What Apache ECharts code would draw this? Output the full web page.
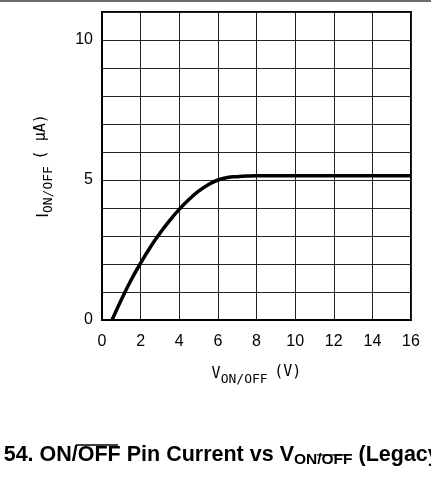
<!DOCTYPE html>
<html>
<head>
<meta charset="utf-8">
<script src="https://cdn.jsdelivr.net/npm/echarts@6/dist/echarts.min.js"></script>
<style>
  html, body { margin: 0; padding: 0; background: #fff; }
  #chart { width: 431px; height: 477px; }
</style>
</head>
<body>
<div id="chart"></div>
<script>
// V_ON/OFF (V) vs I_ON/OFF (uA)
const voltage = [0.52, 1, 1.5, 2, 2.5, 3, 3.5, 4, 4.5, 5, 5.5, 6, 6.5, 7, 7.5, 8, 10, 12, 14, 16];
const current = [0, 0.72, 1.42, 2.03, 2.6, 3.1, 3.55, 3.95, 4.3, 4.6, 4.83, 5.0, 5.09, 5.12, 5.14, 5.15, 5.15, 5.15, 5.15, 5.15];
const yLabels = [0, 5, 10];

const chart = echarts.init(document.getElementById("chart"));
const font = "Liberation Sans";
const plotter = "DejaVu Sans Mono";

chart.setOption({
    animation: false,
    backgroundColor: "#fff",
    grid: {
        left: 102, right: 20, top: 12, bottom: 157,
        show: true, borderColor: "#000", borderWidth: 2,
    },
    xAxis: {
        type: "value", min: 0, max: 16, interval: 2,
        axisLine: { lineStyle: { color: "#000", width: 2 } },
        axisTick: { show: false },
        splitLine: { lineStyle: { color: "#222", width: 1 } },
        axisLabel: { color: "#000", fontFamily: font, fontSize: 16, margin: 14 },
        name: "{v|V}{s|ON/OFF}  {p|(V)}",
        nameLocation: "middle",
        nameGap: 42,
        nameTextStyle: {
            rich: {
                v: { fontFamily: plotter, fontSize: 15, color: "#000" },
                s: { fontFamily: plotter, fontSize: 13, color: "#000", padding: [11, 0, 0, 0] },
                p: { fontFamily: plotter, fontSize: 15, color: "#000", padding: [0, 0, 3, 0] },
            },
        },
    },
    yAxis: {
        type: "value", min: 0, max: 11, interval: 1,
        axisLine: { lineStyle: { color: "#000", width: 2 } },
        axisTick: { show: false },
        splitLine: { lineStyle: { color: "#222", width: 1 } },
        axisLabel: {
            color: "#000", fontFamily: font, fontSize: 16, margin: 9,
            formatter: (v) => (yLabels.includes(v) ? String(v) : ""),
        },
        name: "{v|I}{s|ON/OFF}  {p|( μA)}",
        nameLocation: "middle",
        nameRotate: 90,
        nameGap: 47,
        nameTextStyle: {
            rich: {
                v: { fontFamily: font, fontSize: 17, color: "#000" },
                s: { fontFamily: plotter, fontSize: 13, color: "#000", padding: [11, 0, 0, 0] },
                p: { fontFamily: plotter, fontSize: 15, color: "#000", padding: [0, 0, 3, 0] },
            },
        },
    },
    series: [{
        type: "line",
        data: voltage.map((v, i) => [v, current[i]]),
        smooth: 0.5,
        showSymbol: false,
        lineStyle: { color: "#000", width: 3.5 },
    }],
    graphic: [
        { type: "rect", shape: { x: 0, y: 0, width: 431, height: 2 }, style: { fill: "#6e6e6e" } },
        {
            type: "text", left: -68, top: 444,
            style: {
                text: "{b|Figure 54. ON/OFF Pin Current vs V}{sb|ON/OFF}{b| (Legacy Mode)}",
                rich: {
                    b: { fontFamily: font, fontWeight: "bold", fontSize: 21.5, fill: "#000" },
                    sb: { fontFamily: font, fontWeight: "bold", fontSize: 15.5, fill: "#000", padding: [9, 0, 0, 0] },
                },
            },
        },
        { type: "line", shape: { x1: 76, y1: 445, x2: 118, y2: 445 }, style: { stroke: "#000", lineWidth: 1.5 } },
        { type: "line", shape: { x1: 317, y1: 455, x2: 348, y2: 455 }, style: { stroke: "#000", lineWidth: 1.2 } },
    ],
});
</script>
</body>
</html>
